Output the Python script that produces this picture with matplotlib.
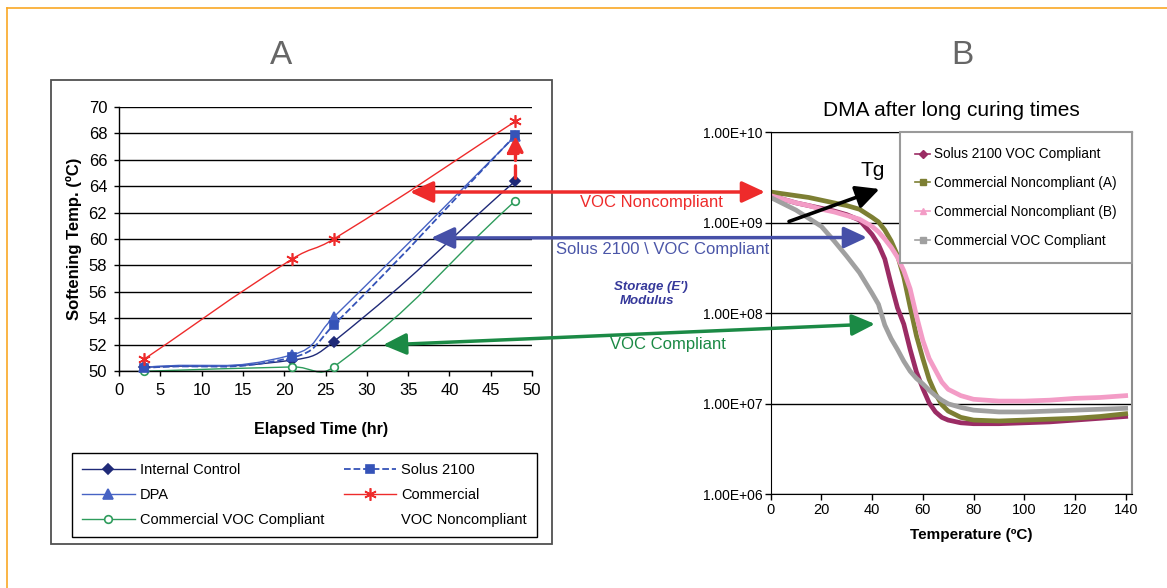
import numpy as np
import matplotlib.pyplot as plt
from matplotlib.path import Path
from matplotlib.patches import PathPatch, Rectangle, FancyArrowPatch
from matplotlib.lines import Line2D
from matplotlib.ticker import FixedLocator, NullLocator

plt.rcParams['font.family'] = ['Liberation Sans', 'DejaVu Sans']

W, H = 1167, 588

# ---- panel A: softening temperature vs elapsed time
hours = [3, 21, 26, 48]
internal_control = [50.3, 50.85, 52.25, 64.4]
solus_2100 = [50.25, 51.05, 53.5, 67.85]
dpa = [50.3, 51.25, 54.1, 67.8]
commercial_noncomp = [50.9, 58.5, 60.0, 68.9]
commercial_comp = [50.0, 50.33, 50.33, 62.9]

# ---- panel B: DMA storage modulus (log10 of E') vs temperature
temps = [0, 5, 10, 15, 20, 25, 30, 35, 40, 42.5, 45, 47.5, 50, 52.5, 55, 57.5,
         60, 62.5, 65, 67.5, 70, 75, 80, 90, 100, 110, 120, 130, 140]
solus_voc_log = [9.30, 9.26, 9.22, 9.19, 9.16, 9.13, 9.09, 9.03, 8.87, 8.76, 8.60, 8.32,
                 8.06, 7.88, 7.60, 7.35, 7.17, 7.01, 6.91, 6.85, 6.82, 6.79, 6.78, 6.78,
                 6.79, 6.80, 6.82, 6.84, 6.86]
noncomp_a_log = [9.34, 9.32, 9.30, 9.28, 9.25, 9.22, 9.19, 9.15, 9.06, 9.01, 8.92, 8.80,
                 8.64, 8.40, 8.07, 7.75, 7.50, 7.27, 7.11, 6.99, 6.92, 6.85, 6.82, 6.81,
                 6.82, 6.83, 6.84, 6.86, 6.89]
noncomp_b_log = [9.30, 9.26, 9.22, 9.19, 9.15, 9.12, 9.08, 9.04, 8.96, 8.90, 8.82, 8.73,
                 8.62, 8.47, 8.27, 7.97, 7.70, 7.50, 7.37, 7.24, 7.16, 7.09, 7.05, 7.03,
                 7.03, 7.04, 7.06, 7.07, 7.09]
comp_voc_log = [9.28, 9.21, 9.14, 9.05, 8.96, 8.80, 8.63, 8.45, 8.22, 8.10, 7.87, 7.72,
                7.60, 7.47, 7.36, 7.28, 7.22, 7.15, 7.09, 7.04, 7.00, 6.96, 6.93, 6.91,
                6.91, 6.92, 6.93, 6.94, 6.95]
modulus_ticks = [1e6, 1e7, 1e8, 1e9, 1e10]


def fx(px):
    return px / W


def fy(py):
    return 1 - py / H


def smooth_path(ax, xs, ys, f=0.5):
    # excel-style smoothed line: bezier segments through the data points
    pts = ax.transData.transform(np.column_stack([xs, ys]))
    n = len(pts)
    verts = [pts[0]]
    codes = [Path.MOVETO]
    for i in range(n - 1):
        p0 = pts[i - 1] if i > 0 else pts[i]
        p1, p2 = pts[i], pts[i + 1]
        p3 = pts[i + 2] if i + 2 < n else pts[i + 1]
        d01 = np.hypot(*(p1 - p0))
        d12 = np.hypot(*(p2 - p1))
        d23 = np.hypot(*(p3 - p2))
        c1 = p1 + (p2 - p0) * f * d12 / (d01 + d12)
        c2 = p2 - (p3 - p1) * f * d12 / (d12 + d23)
        verts += [c1, c2, p2]
        codes += [Path.CURVE4] * 3
    return Path(ax.transData.inverted().transform(np.array(verts)), codes)


fig = plt.figure(figsize=(W / 100, H / 100), dpi=100)

# frame lines and panel letters
fig.add_artist(Line2D([fx(6.5), 1], [fy(8), fy(8)], color='#f9a825', lw=1.2, transform=fig.transFigure))
fig.add_artist(Line2D([fx(6.5), fx(6.5)], [fy(8), 0], color='#f9a825', lw=1.2, transform=fig.transFigure))
fig.text(fx(281), fy(55), 'A', fontsize=24, color='#666666', ha='center', va='center')
fig.text(fx(962), fy(55), 'B', fontsize=24, color='#666666', ha='center', va='center')
fig.add_artist(Rectangle((fx(51), fy(544)), (552 - 51) / W, (544 - 80) / H, transform=fig.transFigure,
                         fill=False, ec='#505050', lw=1.3))

# ---------------- panel A
axA = fig.add_axes([fx(119), fy(371.3), (532 - 119) / W, (371.3 - 106.7) / H])
axA.set_xlim(0, 50)
axA.set_ylim(50, 70)
axA.set_xticks(range(0, 51, 5))
axA.set_yticks(range(50, 71, 2))
axA.grid(axis='y', color='black', lw=1)
axA.set_axisbelow(True)
for s in ['top', 'right']:
    axA.spines[s].set_visible(False)
for s in ['left', 'bottom']:
    axA.spines[s].set_linewidth(1)
axA.tick_params(direction='out', length=3.5, width=1, labelsize=12, pad=5)
axA.set_ylabel('Softening Temp. (ºC)', fontsize=12, fontweight='bold')
axA.yaxis.set_label_coords(-0.09, 0.5)
axA.set_xlabel('Elapsed Time (hr)', fontsize=11.5, fontweight='bold')
axA.xaxis.set_label_coords(0.49, -0.19)

series_a = [
    (internal_control, 'Internal Control', '#1f2a78', '-', 'D', 5, '#1f2a78'),
    (dpa, 'DPA', '#4763c4', '-', '^', 7, '#4763c4'),
    (commercial_comp, 'Commercial VOC Compliant', '#2e9c5c', '-', 'o', 5.5, 'white'),
    (solus_2100, 'Solus 2100', '#3553b8', '--', 's', 5.5, '#3553b8'),
    (commercial_noncomp, 'Commercial', '#ee2b2b', '-', (6, 2, 0), 9, '#ee2b2b'),
]
handles = []
labels = []
for vals, label, color, ls, marker, ms, mfc in series_a:
    lw = 1.3 if ls == '--' else 1.0
    axA.add_patch(PathPatch(smooth_path(axA, hours, vals), fill=False, edgecolor=color, lw=lw,
                            linestyle=ls, clip_on=False))
    axA.plot(hours, vals, ls='none', marker=marker, ms=ms, color=color, mfc=mfc, mew=1.2, zorder=3,
             clip_on=False)
    handles.append(Line2D([], [], color=color, ls=ls, lw=lw, marker=marker, ms=ms, mfc=mfc, mew=1.2))
    labels.append(label)
# second line of the last label, without its own key
handles.append(Line2D([], [], ls='none', marker=None))
labels.append('VOC Noncompliant')

# dashed red arrow at 48 h
axA.annotate('', xy=(hours[-1], solus_2100[-1] - 0.05), xytext=(hours[-1], internal_control[-1] + 0.2),
             arrowprops=dict(arrowstyle='-|>,head_length=1.0,head_width=0.5', color='#ee2b2b', lw=2.4,
                             linestyle='--', shrinkA=0, shrinkB=0), zorder=4)

legA = fig.legend(handles, labels, ncol=2, loc='upper left',
                  bbox_to_anchor=(fx(72), fy(537), (537 - 72) / W, (537 - 453) / H), mode='expand',
                  borderaxespad=0, fontsize=10.5, handlelength=3.6, handletextpad=0.35,
                  labelspacing=0.75, borderpad=0.7, fancybox=False, edgecolor='black', framealpha=1)
legA.get_frame().set_linewidth(1)

# ---------------- panel B
axB = fig.add_axes([fx(770.7), fy(494.3), (1132 - 770.7) / W, (494.3 - 132.3) / H])
axB.set_yscale('log')
axB.set_ylim(1e6, 1e10)
axB.set_xlim(0, 142.5)
axB.yaxis.set_major_locator(FixedLocator(modulus_ticks))
axB.yaxis.set_minor_locator(NullLocator())
axB.set_yticklabels([f'{v:.2E}' for v in modulus_ticks], fontsize=10)
axB.set_xticks(range(0, 141, 20))
axB.set_xticklabels([str(t) for t in range(0, 141, 20)], fontsize=10.5)
axB.grid(axis='y', which='major', color='black', lw=1)
axB.set_axisbelow(True)
axB.spines['right'].set_color('#8c8c8c')
axB.spines['right'].set_linewidth(1.5)
axB.tick_params(direction='out', length=4, width=1, pad=2)
axB.set_title('DMA after long curing times', fontsize=15, pad=12)
axB.set_xlabel('Temperature (ºC)', fontsize=11, fontweight='bold')
axB.xaxis.set_label_coords(0.554, -0.094)

series_b = [
    (solus_voc_log, 'Solus 2100 VOC Compliant', '#9b2c64', 'D'),
    (noncomp_a_log, 'Commercial Noncompliant (A)', '#7d7f33', 's'),
    (noncomp_b_log, 'Commercial Noncompliant (B)', '#f39cc6', '^'),
    (comp_voc_log, 'Commercial VOC Compliant', '#a0a0a0', 's'),
]
handles_b = []
for vals, label, color, marker in series_b:
    axB.plot(temps, 10 ** np.array(vals), color=color, lw=3.4, solid_joinstyle='round')
    handles_b.append(Line2D([], [], color=color, lw=1.2, marker=marker, ms=4.5))
legB = axB.legend(handles_b, [s[1] for s in series_b], loc='upper right', bbox_to_anchor=(1, 1),
                  borderaxespad=0, fontsize=9.8, handlelength=1.1, handletextpad=0.3,
                  borderpad=1.1, labelspacing=1.1, fancybox=False,
                  edgecolor='#9a9a9a', framealpha=1)
legB.get_frame().set_linewidth(1.5)

# ---------------- annotations across the panels
def arrow(p1, p2, color, style='<|-|>', hl=14, hw=6.5, lw=2.5):
    fig.add_artist(FancyArrowPatch((fx(p1[0]), fy(p1[1])), (fx(p2[0]), fy(p2[1])),
                                   transform=fig.transFigure, color=color, lw=lw, mutation_scale=1,
                                   arrowstyle=f'{style},head_length={hl},head_width={hw}',
                                   shrinkA=0, shrinkB=0, zorder=10))


arrow((410, 192), (765, 192), '#ee2b2b')
fig.text(fx(651), fy(203), 'VOC Noncompliant', color='#ee2b2b', fontsize=12, ha='center', va='center')
arrow((431, 238), (867, 237.5), '#4650a8')
fig.text(fx(663), fy(250), 'Solus 2100 \\ VOC Compliant', color='#4b56a8', fontsize=12,
         ha='center', va='center')
fig.text(fx(651), fy(287), "Storage (E')", color='#35389a', fontsize=9.5, fontweight='bold',
         style='italic', ha='center', va='center')
fig.text(fx(647), fy(301.5), 'Modulus', color='#35389a', fontsize=9.5, fontweight='bold',
         style='italic', ha='center', va='center')
arrow((383, 345), (875, 324), '#1b8a45')
fig.text(fx(667.5), fy(345), 'VOC Compliant', color='#1b8a45', fontsize=12, ha='center', va='center')
arrow((789, 221.5), (879.5, 189), 'black', style='-|>', hl=14, hw=7, lw=2.6)
fig.text(fx(873), fy(170), 'Tg', fontsize=15, ha='center', va='center')

fig.savefig('out.png', dpi=100)
